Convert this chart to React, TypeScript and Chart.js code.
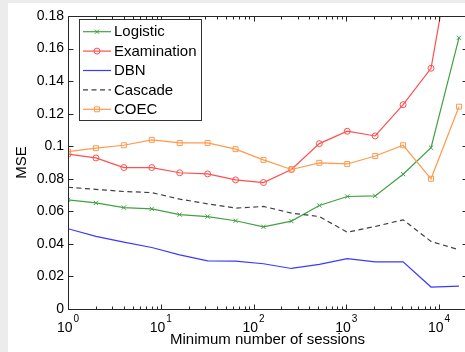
import React, { useEffect, useRef } from 'react';
import { Chart, registerables } from 'chart.js';

Chart.register(...registerables);

const FONT = "'Liberation Sans', Arial, Helvetica, sans-serif";

// Minimum number of sessions (x values)
const sessions = [1, 2, 4, 8, 16, 32, 64, 128, 256, 512, 1024, 2048, 4096, 8192, 16384];

const logistic = [0.0671, 0.0652, 0.0623, 0.0615, 0.058, 0.0568, 0.0542, 0.0505, 0.054, 0.0636, 0.0691, 0.0695, 0.0828, 0.0991, 0.1666];
const examination = [0.0951, 0.0928, 0.0869, 0.0869, 0.0837, 0.083, 0.0793, 0.0777, 0.0857, 0.1016, 0.1092, 0.1063, 0.1255, 0.1479, 0.245];
const dbn = [0.0493, 0.0446, 0.0411, 0.0378, 0.0333, 0.0296, 0.0294, 0.0278, 0.0249, 0.0274, 0.0309, 0.029, 0.029, 0.0135, 0.0141];
const cascade = [0.0748, 0.0735, 0.0722, 0.0715, 0.0675, 0.0646, 0.062, 0.063, 0.0589, 0.0568, 0.0472, 0.0507, 0.0548, 0.0415, 0.0364];
const coec = [0.0967, 0.0988, 0.1006, 0.1039, 0.102, 0.102, 0.0982, 0.0916, 0.0857, 0.0898, 0.0891, 0.094, 0.1006, 0.08, 0.1243];

const xTickValues = [1, 10, 100, 1000, 10000];
const xTickBase = '10';
const xTickExponents = ['0', '1', '2', '3', '4'];
const xMin = 1;
const xMax = 20000;
const yMin = 0;
const yMax = 0.18;
const yStep = 0.02;

const xTitle = 'Minimum number of sessions';
const yTitle = 'MSE';

const AXIS = '#262626';

function drawMarker(ctx: CanvasRenderingContext2D, style: string, r: number, x: number, y: number, color: string) {
  if (!r) return;
  ctx.save();
  ctx.strokeStyle = color;
  ctx.lineWidth = 1;
  ctx.setLineDash([]);
  ctx.beginPath();
  if (style === 'circle') {
    ctx.arc(x, y, r, 0, Math.PI * 2);
  } else if (style === 'rect') {
    const s = r * Math.SQRT1_2;
    ctx.rect(x - s, y - s, 2 * s, 2 * s);
  } else if (style === 'crossRot') {
    const s = r * Math.SQRT1_2;
    ctx.moveTo(x - s, y - s);
    ctx.lineTo(x + s, y + s);
    ctx.moveTo(x - s, y + s);
    ctx.lineTo(x + s, y - s);
  }
  ctx.stroke();
  ctx.restore();
}

const framePlugin = {
  id: 'matlabFrame',
  afterDatasetsDraw(chart: any) {
    const { ctx, chartArea, scales } = chart;
    const xs = scales.x;
    const ys = scales.y;
    const L = Math.round(chartArea.left) + 0.5;
    const R = Math.round(chartArea.right) + 0.5;
    const T = Math.round(chartArea.top) + 0.5;
    const B = Math.round(chartArea.bottom) + 0.5;
    ctx.save();
    ctx.strokeStyle = AXIS;
    ctx.lineWidth = 1;
    ctx.setLineDash([]);
    ctx.beginPath();
    ctx.moveTo(L, T);
    ctx.lineTo(R, T);
    ctx.lineTo(R, B);
    ctx.lineTo(L, B);
    ctx.closePath();
    // x ticks (major + minor), inward on bottom and top
    for (let d = 1; d <= 10000; d *= 10) {
      for (let m = 1; m <= 9; m++) {
        const v = m * d;
        if (v < xMin || v > xMax) continue;
        const px = Math.round(xs.getPixelForValue(v)) + 0.5;
        const len = m === 1 ? 5 : 3;
        ctx.moveTo(px, B);
        ctx.lineTo(px, B - len);
        ctx.moveTo(px, T);
        ctx.lineTo(px, T + len);
      }
    }
    // y ticks inward on left and right
    ys.ticks.forEach((t: any) => {
      const py = Math.round(ys.getPixelForValue(t.value)) + 0.5;
      ctx.moveTo(L, py);
      ctx.lineTo(L + 5, py);
      ctx.moveTo(R, py);
      ctx.lineTo(R - 5, py);
    });
    ctx.stroke();

    // x tick labels with superscript exponents
    ctx.fillStyle = '#000';
    ctx.textAlign = 'left';
    ctx.textBaseline = 'alphabetic';
    xTickValues.forEach((v, i) => {
      const px = xs.getPixelForValue(v);
      ctx.font = `14px ${FONT}`;
      const w1 = ctx.measureText(xTickBase).width;
      ctx.font = `10px ${FONT}`;
      const w2 = ctx.measureText(xTickExponents[i]).width;
      const total = w1 + 1 + w2;
      const sx = px - total / 2;
      ctx.font = `14px ${FONT}`;
      ctx.fillText(xTickBase, sx, chartArea.bottom + 22.7);
      ctx.font = `10px ${FONT}`;
      ctx.fillText(xTickExponents[i], sx + w1 + 1, chartArea.bottom + 12.5);
    });
    ctx.restore();
  },
};

const legendPlugin = {
  id: 'boxLegend',
  afterDatasetsDraw(chart: any) {
    const { ctx, chartArea } = chart;
    const items = chart.data.datasets;
    ctx.save();
    ctx.font = `15px ${FONT}`;
    const maxW = Math.max(...items.map((d: any) => ctx.measureText(d.label).width));
    const x0 = Math.round(chartArea.left + 11);
    const y0 = Math.round(chartArea.top + 3);
    const rowH = 19.4;
    const w = Math.round(35 + maxW + 4);
    const h = Math.round(rowH * items.length + 4);
    ctx.fillStyle = '#fff';
    ctx.fillRect(x0, y0, w, h);
    ctx.strokeStyle = '#333';
    ctx.lineWidth = 1;
    ctx.strokeRect(x0 + 0.5, y0 + 0.5, w, h);
    items.forEach((d: any, i: number) => {
      const cy = y0 + 12.7 + i * rowH;
      ctx.save();
      ctx.strokeStyle = d.borderColor;
      ctx.lineWidth = d.borderWidth;
      ctx.setLineDash(d.borderDash || []);
      ctx.beginPath();
      ctx.moveTo(x0 + 4, cy);
      ctx.lineTo(x0 + 32, cy);
      ctx.stroke();
      ctx.restore();
      drawMarker(ctx, d.pointStyle, d.pointRadius, x0 + 18, cy, d.borderColor);
      ctx.fillStyle = '#000';
      ctx.textAlign = 'left';
      ctx.textBaseline = 'middle';
      ctx.font = `15px ${FONT}`;
      ctx.fillText(d.label, x0 + 35, cy + 0.5);
    });
    ctx.restore();
  },
};

function series(label: string, values: number[], color: string, extra: any) {
  return {
    label,
    data: sessions.map((s, i) => ({ x: s, y: values[i] })),
    borderColor: color,
    backgroundColor: 'rgba(0,0,0,0)',
    borderWidth: 1.2,
    pointBorderWidth: 1,
    pointBackgroundColor: 'rgba(0,0,0,0)',
    pointBorderColor: color,
    tension: 0,
    ...extra,
  };
}

export default function App() {
  const ref = useRef<HTMLCanvasElement | null>(null);

  useEffect(() => {
    if (!ref.current) return;
    const chart = new Chart(ref.current, {
      type: 'line',
      data: {
        datasets: [
          series('Logistic', logistic, '#42a042', { pointStyle: 'crossRot', pointRadius: 3, order: 5 }),
          series('Examination', examination, '#ff4f4f', { pointStyle: 'circle', pointRadius: 3, order: 4 }),
          series('DBN', dbn, '#3a3aff', { pointStyle: 'circle', pointRadius: 0, order: 3 }),
          series('Cascade', cascade, '#404040', { pointStyle: 'circle', pointRadius: 0, borderDash: [5, 3.5], order: 2 }),
          series('COEC', coec, '#ff9a4d', { pointStyle: 'rect', pointRadius: 3.5, order: 1 }),
        ],
      },
      plugins: [framePlugin, legendPlugin],
      options: {
        responsive: false,
        animation: false,
        devicePixelRatio: 1,
        layout: { padding: { left: 0, top: 13, right: 11, bottom: 0 } },
        plugins: {
          legend: { display: false },
          tooltip: { enabled: false },
        },
        scales: {
          x: {
            type: 'logarithmic',
            min: xMin,
            max: xMax,
            grid: { display: false, drawTicks: false },
            border: { display: false },
            ticks: { display: false },
            afterFit: (scale: any) => {
              scale.height = 43;
            },
            title: {
              display: true,
              text: xTitle,
              color: '#000',
              font: { family: FONT, size: 15 },
              padding: { top: 0, bottom: 3 },
            },
          },
          y: {
            type: 'linear',
            min: yMin,
            max: yMax,
            grid: { display: false, drawTicks: false },
            border: { display: false },
            ticks: {
              stepSize: yStep,
              padding: 4,
              color: '#000',
              font: { family: FONT, size: 14 },
              callback: (v: any) => String(Number(Number(v).toFixed(2))),
            },
            afterFit: (scale: any) => {
              scale.width = 60;
            },
            title: {
              display: true,
              text: yTitle,
              color: '#000',
              font: { family: FONT, size: 15 },
              padding: { top: 5, bottom: 0 },
            },
          },
        },
      },
    });
    return () => chart.destroy();
  }, []);

  return (
    <div
      style={{
        position: 'fixed',
        left: 0,
        top: 0,
        width: 465,
        height: 352,
        background: '#ececec',
        overflow: 'hidden',
      }}
    >
      <div style={{ position: 'absolute', left: 8, top: 3, width: 470, height: 349, background: '#fff' }}>
        <canvas ref={ref} width={470} height={349} style={{ display: 'block', width: 470, height: 349 }} />
      </div>
    </div>
  );
}
